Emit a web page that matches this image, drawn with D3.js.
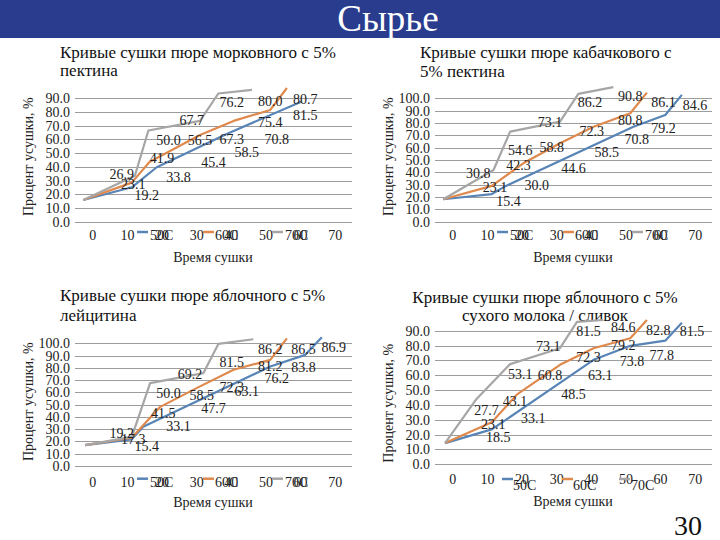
<!DOCTYPE html>
<html><head><meta charset="utf-8">
<script src="https://cdn.jsdelivr.net/npm/d3@7"></script>
<style>body{margin:0;background:#fff}svg{display:block}</style>
</head><body><svg id="c" width="720" height="540"></svg>
<script>
// ---------- data ----------
const slideTitle = "Сырье";
const pageNumber = "30";
const xTicks = [0, 10, 20, 30, 40, 50, 60, 70];
const xTitle = "Время сушки";
const yTitle = "Процент усушки, %";
const seriesNames = ["50С", "60С", "70С"];
const seriesColors = ["#5884b6", "#df894d", "#a6a6a6"];

const c1Title = ["Кривые сушки пюре морковного с 5%", "пектина"];
const c1YTicks = [0, 10, 20, 30, 40, 50, 60, 70, 80, 90];
const c1Blue = [[-2.6, 15.8], [11.4, 25.1], [18.6, 39.7], [38.8, 64.0], [60.5, 87.6]];
const c1Orange = [[-2.6, 15.8], [11.4, 28.5], [16.5, 43.5], [31.1, 63.3], [40.8, 73.5], [51.4, 81.5], [56.2, 97.5]];
const c1Gray = [[-2.6, 15.8], [12.3, 33.5], [16.2, 66.5], [31.1, 73.5], [36.4, 93.5], [46.1, 96.1]];
const c1Labels = [[8.5, 34.8, "26.9"], [11.8, 27.5, "23.1"], [15.7, 19.5, "19.2"], [20.1, 46.3, "41.9"], [24.9, 32.8, "33.8"],
  [22, 59.6, "50.0"], [31.1, 59.6, "56.5"], [35, 43.4, "45.4"], [28.7, 74.2, "67.7"], [40.3, 60.4, "67.3"], [44.6, 50.4, "58.5"],
  [40.3, 86.9, "76.2"], [51.4, 88.3, "80.0"], [51.4, 73, "75.4"], [53.3, 60.4, "70.8"], [61.5, 89.6, "80.7"], [61.5, 77.4, "81.5"]];

const c2Title = ["Кривые сушки пюре кабачкового с", "5% пектина"];
const c2YTicks = [0, 10, 20, 30, 40, 50, 60, 70, 80, 90, 100];
const c2Blue = [[-2.6, 18.2], [11.4, 22.4], [15.5, 29], [52.3, 77], [61.5, 86.5], [66.3, 102.8]];
const c2Orange = [[-2.6, 18.2], [11.4, 29], [20.5, 47.3], [31.1, 63.6], [40.8, 77], [51.4, 87.9], [56.2, 104.6]];
const c2Gray = [[-2.6, 18.2], [11.9, 41.9], [16.7, 73], [31.1, 81.1], [36.4, 103.6], [46.5, 109]];
const c2Labels = [[7.5, 39.2, "30.8"], [12.3, 28.4, "23.1"], [16.2, 17, "15.4"], [19.1, 46, "42.3"], [24.4, 29.8, "30.0"],
  [19.6, 58.2, "54.6"], [28.7, 60.3, "58.8"], [35, 43.3, "44.6"], [28.2, 81.1, "73.1"], [40.3, 73.6, "72.3"], [44.6, 56.8, "58.5"],
  [39.8, 97.3, "86.2"], [51.4, 101.4, "90.8"], [51.4, 82.5, "80.8"], [53.3, 66.8, "70.8"], [61, 97.3, "86.1"], [70.1, 94.1, "84.6"], [61, 75.7, "79.2"]];

const c3Title = ["Кривые сушки пюре яблочного с 5%", "лейцитина"];
const c3YTicks = [0, 10, 20, 30, 40, 50, 60, 70, 80, 90, 100];
const c3Blue = [[-2.1, 17], [11.4, 21.7], [14.7, 32], [51.4, 81.1], [61.5, 90.6], [66.3, 105]];
const c3Orange = [[-2.1, 17], [11.4, 23], [19.6, 48.2], [31.1, 64.9], [40.8, 78.4], [51.4, 86.5], [56.2, 104]];
const c3Gray = [[-2.1, 17], [11.4, 23.8], [16.7, 67.6], [32.1, 75.7], [36.4, 99.5], [46.5, 103.3]];
const c3Labels = [[8.5, 27, "19.2"], [11.8, 22.2, "17.3"], [15.7, 16.2, "15.4"], [20.5, 43.3, "41.5"], [24.9, 32.4, "33.1"],
  [22, 59.5, "50.0"], [31.6, 58.1, "58.5"], [35, 47.4, "47.7"], [28.2, 74.9, "69.2"], [40.3, 64.4, "72.3"], [44.6, 61.4, "63.1"],
  [40.3, 84.9, "81.5"], [51.4, 95.5, "86.2"], [51.4, 81.1, "81.2"], [53.3, 71.7, "76.2"], [61, 95.5, "86.5"], [61, 80.3, "83.8"], [69.7, 96.8, "86.9"]];

const c4Title = ["Кривые сушки пюре яблочного с 5%", "сухого молока / сливок"];
const c4YTicks = [0, 10, 20, 30, 40, 50, 60, 70, 80, 90];
const c4Blue = [[-2.1, 14.3], [11.4, 23.5], [40.8, 70.4], [51.4, 79.8], [61.5, 83.3], [66.3, 95.4]];
const c4Orange = [[-2.1, 14.3], [11.4, 28.4], [18.6, 46.9], [31.1, 67], [40.8, 78.2], [51.4, 84.9], [56.2, 97.2]];
const c4Gray = [[-2.1, 14.3], [7, 44], [16.7, 67.5], [31.1, 78.2], [36, 96], [43.6, 97.2]];
const c4Labels = [[9.9, 36.2, "27.7"], [11.8, 26.8, "23.1"], [13.3, 18.6, "18.5"], [18.1, 42.4, "43.1"], [23.4, 31.3, "33.1"],
  [19.6, 60.8, "53.1"], [28.2, 60.3, "60.8"], [35, 47.4, "48.5"], [27.7, 79.3, "73.1"], [39.3, 72.2, "72.3"], [42.7, 60.3, "63.1"],
  [39.3, 90, "81.5"], [49.4, 92.7, "84.6"], [49.4, 80.4, "79.2"], [51.9, 69.2, "73.8"], [59.5, 90.5, "82.8"], [60.5, 73.7, "77.8"], [69.2, 90, "81.5"]];

// ---------- layout ----------
const charts = [
  {title: c1Title, yTicks: c1YTicks, series: [c1Blue, c1Orange, c1Gray], labels: c1Labels},
  {title: c2Title, yTicks: c2YTicks, series: [c2Blue, c2Orange, c2Gray], labels: c2Labels},
  {title: c3Title, yTicks: c3YTicks, series: [c3Blue, c3Orange, c3Gray], labels: c3Labels},
  {title: c4Title, yTicks: c4YTicks, series: [c4Blue, c4Orange, c4Gray], labels: c4Labels}
];
const layouts = [
  {ox: 0, y0: 221.7, yTop: 98.3, titleX: 60, titleY: [51.7, 70], anchor: "start", xTickY: 235, xTitleY: 256.7, yTitleY: 156.7,
   legLine: [137, 203, 272], legText: [150, 215, 285], legLineY: 232, legTextY: 235},
  {ox: 360, y0: 221.7, yTop: 98.3, titleX: 60, titleY: [51.7, 70.7], anchor: "start", xTickY: 235, xTitleY: 256.7, yTitleY: 156.7,
   legLine: [137, 203, 272], legText: [150, 215, 285], legLineY: 232, legTextY: 235},
  {ox: 0, y0: 466, yTop: 343.3, titleX: 60, titleY: [295, 315], anchor: "start", xTickY: 481.7, xTitleY: 501.7, yTitleY: 401.7,
   legLine: [137, 203, 272], legText: [150, 215, 285], legLineY: 478.7, legTextY: 481.7},
  {ox: 360, y0: 464.3, yTop: 330.7, titleX: 185, titleY: [296.7, 315], anchor: "middle", xTickY: 479, xTitleY: 500.7, yTitleY: 403.3,
   legLine: [142, 202, 259], legText: [153, 213, 271], legLineY: 479, legTextY: 485}
];
const plotL = 75, plotR = 352;
const xDomain = [-5, 75];
const textColor = "#222";
const FONT = "'Liberation Serif', 'Times New Roman', serif";
const fsTitle = 17, fsText = 14;

// ---------- draw ----------
const svg = d3.select("#c").attr("font-family", FONT);
svg.append("rect").attr("x", 0).attr("y", 0).attr("width", 720).attr("height", 38).attr("fill", "#293c8e");
svg.append("text").attr("x", 388).attr("y", 31).attr("text-anchor", "middle").attr("fill", "#fff")
  .attr("font-size", 37).text(slideTitle);

charts.forEach((c, i) => {
  const L = layouts[i];
  const g = svg.append("g").attr("transform", `translate(${L.ox},0)`);
  const yMax = c.yTicks[c.yTicks.length - 1];
  const x = d3.scaleLinear().domain(xDomain).range([plotL, plotR]);
  const y = d3.scaleLinear().domain([0, yMax]).range([L.y0, L.yTop]);

  c.title.forEach((t, k) => {
    g.append("text").attr("x", L.titleX).attr("y", L.titleY[k]).attr("dy", "0.35em")
      .attr("text-anchor", L.anchor).attr("font-size", fsTitle).attr("fill", "#111").text(t);
  });

  g.append("g").selectAll("line").data(c.yTicks).join("line")
    .attr("x1", plotL).attr("x2", plotR)
    .attr("y1", d => Math.round(y(d)) + 0.5).attr("y2", d => Math.round(y(d)) + 0.5)
    .attr("stroke", "#9c9c9c").attr("stroke-width", 1);

  const ya = g.append("g").attr("transform", "translate(70,0)")
    .call(d3.axisLeft(y).tickValues(c.yTicks).tickFormat(d3.format(".1f")).tickSize(0).tickPadding(0));
  ya.select(".domain").remove();
  ya.attr("font-family", FONT).attr("font-size", fsText);
  ya.selectAll("text").attr("fill", textColor);

  const xa = g.append("g").attr("transform", `translate(0,${L.xTickY - 5})`)
    .call(d3.axisBottom(x).tickValues(xTicks).tickFormat(d3.format("d")).tickSize(0).tickPadding(0));
  xa.select(".domain").remove();
  xa.attr("font-family", FONT).attr("font-size", fsText);
  xa.selectAll("text").attr("fill", textColor);

  seriesNames.forEach((n, k) => {
    g.append("line").attr("x1", L.legLine[k]).attr("x2", L.legLine[k] + 11)
      .attr("y1", L.legLineY).attr("y2", L.legLineY)
      .attr("stroke", seriesColors[k]).attr("stroke-width", 2.5);
    g.append("text").attr("x", L.legText[k]).attr("y", L.legTextY).attr("dy", "0.35em")
      .attr("font-size", fsText).attr("fill", textColor).text(n);
  });

  const line = d3.line().x(d => x(d[0])).y(d => y(d[1]));
  c.series.forEach((s, k) => {
    g.append("path").datum(s).attr("d", line).attr("fill", "none")
      .attr("stroke", seriesColors[k]).attr("stroke-width", 2.2).attr("stroke-linejoin", "round");
  });

  g.append("g").selectAll("text").data(c.labels).join("text")
    .attr("x", d => x(d[0])).attr("y", d => y(d[1])).attr("dy", "0.35em")
    .attr("text-anchor", "middle").attr("font-size", fsText).attr("fill", textColor)
    .text(d => d[2]);

  g.append("text").attr("x", 213).attr("y", L.xTitleY).attr("dy", "0.35em").attr("text-anchor", "middle")
    .attr("font-size", fsText).attr("fill", textColor).text(xTitle);
  g.append("text").attr("transform", `translate(28,${L.yTitleY}) rotate(-90)`).attr("dy", "0.35em")
    .attr("text-anchor", "middle").attr("font-size", fsText).attr("fill", textColor).text(yTitle);
});

svg.append("text").attr("x", 688).attr("y", 525).attr("dy", "0.35em").attr("text-anchor", "middle")
  .attr("font-size", 28).attr("fill", "#111").text(pageNumber);
</script></body></html>
